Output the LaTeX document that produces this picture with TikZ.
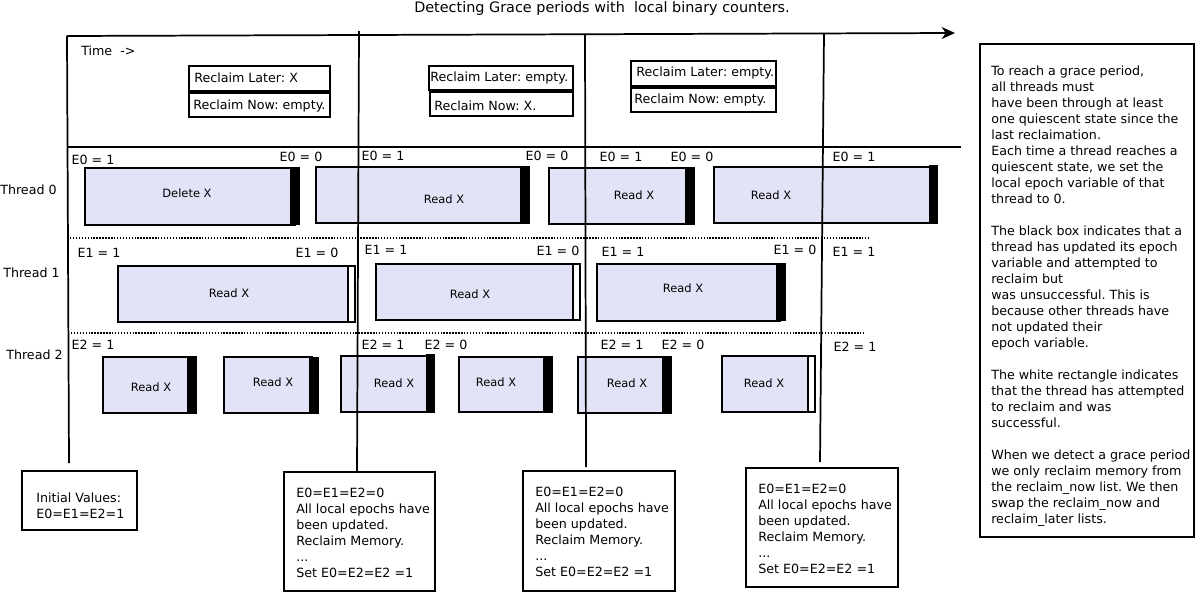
\documentclass[tikz,border=0pt]{standalone}
\usepackage{fontspec}
\setmainfont{DejaVu Sans}
\usetikzlibrary{arrows.meta,positioning}
\definecolor{readfill}{RGB}{227,227,247}
\frenchspacing

\begin{document}
\begin{tikzpicture}[x=0.75pt,y=-0.75pt,
  axis/.style={line width=1.3pt},
  sep/.style={line width=1.4pt,dash pattern=on 1.1pt off 1.1pt},
  proc/.style={draw,line width=1.2pt,fill=readfill},
  fail/.style={draw,line width=0.8pt,fill=black},
  done/.style={draw,line width=0.8pt,fill=white},
  listbox/.style={draw,line width=1.2pt},
  lbl/.style={font=\fontsize{9.5}{12}\selectfont,inner sep=0pt},
  act/.style={font=\fontsize{8.6}{10}\selectfont,inner sep=0pt},
  note/.style={font=\fontsize{9.5}{12}\selectfont,inner sep=0pt,align=left,anchor=north west}]
  \useasboundingbox (0,0) rectangle (1196,592);

  \node[lbl,font=\fontsize{10.8}{13}\selectfont] (title) at (602,9) {Detecting Grace periods with\ \ local binary counters.}; %Title
  \draw[axis,-{Stealth[length=10pt,width=9pt,inset=3pt]}] (67,36) -- (955,33); %Draw time axis
  \draw[axis] (67,36) -- (69,463); %Draw left border
  \draw[axis] (67,147) -- (961,147); %Draw top of threads
  \node[lbl,anchor=west] (time) at (81,51) {Time\ \ ->}; %Annotation time axis
  \draw[sep] (70,238) -- (868,238); %Separate thread 0 and 1
  \draw[sep] (68,333) -- (865,333); %Separate thread 1 and 2

  \node[lbl,anchor=west] (t0) at (0,190) {Thread 0}; %Thread names
  \node[lbl,anchor=west] (t1) at (3,273) {Thread 1};
  \node[lbl,anchor=west] (t2) at (6,355) {Thread 2};

  \draw[listbox] (189,66) rectangle (330,91); %Reclaim lists 1
  \draw[listbox] (189,93) rectangle (330,117);
  \node[lbl,anchor=west] (later1) at (194,78) {Reclaim Later: X};
  \node[lbl,anchor=west] (now1) at (193,106) {Reclaim Now: empty.};
  \draw[listbox] (429,66) rectangle (573,90); %Reclaim lists 2
  \draw[listbox] (430,92) rectangle (573,116);
  \node[lbl,anchor=west] (later2) at (430,78) {Reclaim Later: empty.};
  \node[lbl,anchor=west] (now2) at (434,106) {Reclaim Now: X.};
  \draw[listbox] (631,61) rectangle (776,86); %Reclaim lists 3
  \draw[listbox] (631,88) rectangle (776,112);
  \node[lbl,anchor=west] (later3) at (636,73) {Reclaim Later: empty.};
  \node[lbl,anchor=west] (now3) at (634,100) {Reclaim Now: empty.};

  \draw[proc] (85,168) rectangle (295,225); %Thread 0 boxes
  \draw[fail] (291,168) rectangle (299,224);
  \node[act] (d0) at (187,193) {Delete X};
  \draw[proc] (316,167) rectangle (525,223);
  \draw[fail] (521,167) rectangle (529,223);
  \node[act] (r01) at (444,199) {Read X};
  \draw[proc] (549,168) rectangle (690,224);
  \draw[fail] (686,168) rectangle (694,224);
  \node[act] (r02) at (634,195) {Read X};
  \draw[proc] (714,167) rectangle (933,223);
  \draw[fail] (930,166) rectangle (937,223);
  \node[act] (r03) at (771,195) {Read X};
  \node[lbl] at (93,160) {E0 = 1}; %Epochs thread 0
  \node[lbl] at (301,157) {E0 = 0};
  \node[lbl] at (383,156) {E0 = 1};
  \node[lbl] at (547,156) {E0 = 0};
  \node[lbl] at (621,157) {E0 = 1};
  \node[lbl] at (692,157) {E0 = 0};
  \node[lbl] at (854,157) {E0 = 1};

  \draw[proc] (118,266) rectangle (350,322); %Thread 1 boxes
  \draw[done] (348,266) rectangle (355,322);
  \node[act] (r11) at (229,293) {Read X};
  \draw[proc] (376,264) rectangle (575,320);
  \draw[done] (573,264) rectangle (580,320);
  \node[act] (r12) at (470,294) {Read X};
  \draw[proc] (597,264) rectangle (780,321);
  \draw[fail] (777,264) rectangle (785,320);
  \node[act] (r13) at (683,288) {Read X};
  \node[lbl] at (99,253) {E1 = 1}; %Epochs thread 1
  \node[lbl] at (317,253) {E1 = 0};
  \node[lbl] at (386,250) {E1 = 1};
  \node[lbl] at (558,251) {E1 = 0};
  \node[lbl] at (623,252) {E1 = 1};
  \node[lbl] at (795,250) {E1 = 0};
  \node[lbl] at (854,252) {E1 = 1};

  \draw[proc] (103,357) rectangle (190,413); %Thread 2 boxes
  \draw[fail] (188,357) rectangle (196,413);
  \node[act] (r21) at (151,387) {Read X};
  \draw[proc] (224,357) rectangle (312,413);
  \draw[fail] (310,358) rectangle (318,413);
  \node[act] (r22) at (273,382) {Read X};
  \draw[proc] (341,356) rectangle (430,412);
  \draw[fail] (427,355) rectangle (434,412);
  \node[act] (r23) at (394,383) {Read X};
  \draw[proc] (459,357) rectangle (547,412);
  \draw[fail] (544,357) rectangle (552,412);
  \node[act] (r24) at (496,382) {Read X};
  \draw[proc] (578,357) rectangle (666,413);
  \draw[fail] (663,357) rectangle (671,413);
  \node[act] (r25) at (627,383) {Read X};
  \draw[proc] (722,356) rectangle (810,412);
  \draw[done] (808,356) rectangle (815,412);
  \node[act] (r26) at (764,383) {Read X};
  \node[lbl] at (93,345) {E2 = 1}; %Epochs thread 2
  \node[lbl] at (383,345) {E2 = 1};
  \node[lbl] at (446,345) {E2 = 0};
  \node[lbl] at (622,345) {E2 = 1};
  \node[lbl] at (683,345) {E2 = 0};
  \node[lbl] at (855,347) {E2 = 1};

  \draw[listbox] (22,471) rectangle (137,530); %Initial values
  \node[note] (init) at (36,493) {Initial Values:\\E0=E1=E2=1};

  \coordinate (gp1) at (357,472); %Grace periods
  \coordinate (gp2) at (586,467);
  \coordinate (gp3) at (820,462);
  \draw[axis] (359,31) -- (gp1);
  \draw[axis] (585,34) -- (gp2);
  \draw[axis] (824,33) -- (gp3);
  \draw[listbox] (284,472) rectangle (435,591);
  \node[note] (res1) at (296,488) {E0=E1=E2=0\\All local epochs have\\been updated.\\Reclaim Memory.\\...\\Set E0=E2=E2 =1};
  \draw[listbox] (523,471) rectangle (675,591);
  \node[note] (res2) at (535,487) {E0=E1=E2=0\\All local epochs have\\been updated.\\Reclaim Memory.\\...\\Set E0=E2=E2 =1};
  \draw[listbox] (746,468) rectangle (898,587);
  \node[note] (res3) at (758,484) {E0=E1=E2=0\\All local epochs have\\been updated.\\Reclaim Memory.\\...\\Set E0=E2=E2 =1};

  \draw[listbox] (980,44) rectangle (1194,537); %Explanation
  \node[note] (expl) at (991,66) {To reach a grace period,\\all threads must\\have been through at least\\one quiescent state since the\\last reclaimation.\\Each time a thread reaches a\\quiescent state, we set the\\local epoch variable of that\\thread to 0.\\[12pt]The black box indicates that a\\thread has updated its epoch\\variable and attempted to\\reclaim but\\was unsuccessful. This is\\because other threads have\\not updated their\\epoch variable.\\[12pt]The white rectangle indicates\\that the thread has attempted\\to reclaim and was\\successful.\\[12pt]When we detect a grace period\\we only reclaim memory from\\the reclaim\_now list. We then\\swap the reclaim\_now and\\reclaim\_later lists.};
\end{tikzpicture}
\end{document}
